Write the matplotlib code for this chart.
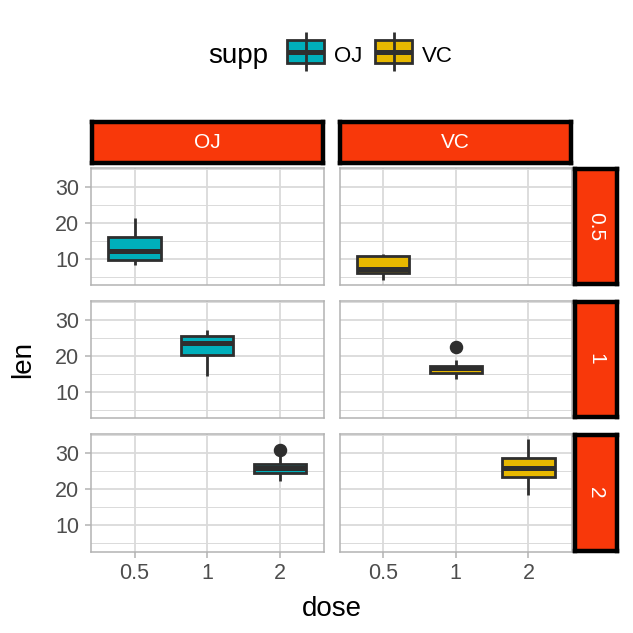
import matplotlib
matplotlib.use('Agg')
import matplotlib.pyplot as plt
from matplotlib.patches import Rectangle

plt.rcParams['font.family'] = ['Liberation Sans', 'DejaVu Sans']

# ToothGrowth: tooth length by supplement and dose
supp_levels = ['OJ', 'VC']
dose_levels = ['0.5', '1', '2']
len_oj_05 = [15.2, 21.5, 17.6, 9.7, 14.5, 10.0, 8.2, 9.4, 16.5, 9.7]
len_oj_1 = [19.7, 23.3, 23.6, 26.4, 20.0, 25.2, 25.8, 21.2, 14.5, 27.3]
len_oj_2 = [25.5, 26.4, 22.4, 24.5, 24.8, 30.9, 26.4, 27.3, 29.4, 23.0]
len_vc_05 = [4.2, 11.5, 7.3, 5.8, 6.4, 10.0, 11.2, 11.2, 5.2, 7.0]
len_vc_1 = [16.5, 16.5, 15.2, 17.3, 22.5, 17.3, 13.6, 14.5, 18.8, 15.5]
len_vc_2 = [23.6, 18.5, 33.9, 25.5, 26.4, 32.5, 26.7, 21.5, 23.3, 29.5]
y_ticks = [10, 20, 30]
y_minor = [5, 15, 25, 35]

tooth_len = {
    ('OJ', '0.5'): len_oj_05, ('OJ', '1'): len_oj_1, ('OJ', '2'): len_oj_2,
    ('VC', '0.5'): len_vc_05, ('VC', '1'): len_vc_1, ('VC', '2'): len_vc_2,
}
fill_colors = {'OJ': '#00AFBB', 'VC': '#E7B800'}
EDGE = '#2E2E2E'
STRIP = '#F8380A'
BOX_LW = 2.0
MED_LW = 3.6

W = H = 633
fig = plt.figure(figsize=(6.33, 6.33), dpi=100)


def rect(x0, y0, x1, y1):
    """pixel box (top-left origin) -> figure fraction rect"""
    return [x0 / W, 1 - y1 / H, (x1 - x0) / W, (y1 - y0) / H]


col_x = [(91, 323.5), (339.5, 572)]
row_y = [(168, 285), (300.5, 418), (434, 551.5)]

all_vals = [v for vals in tooth_len.values() for v in vals]
lo, hi = min(all_vals), max(all_vals)
pad = 0.05 * (hi - lo)

for i, dose in enumerate(dose_levels):
    for j, supp in enumerate(supp_levels):
        ax = fig.add_axes(rect(col_x[j][0], row_y[i][0], col_x[j][1], row_y[i][1]))
        ax.boxplot([tooth_len[(supp, dose)]], positions=[dose_levels.index(dose) + 1],
                   widths=0.72, patch_artist=True, showcaps=False, whis=1.5,
                   boxprops=dict(facecolor=fill_colors[supp], edgecolor=EDGE, linewidth=BOX_LW),
                   medianprops=dict(color=EDGE, linewidth=MED_LW, solid_capstyle='butt'),
                   whiskerprops=dict(color=EDGE, linewidth=BOX_LW, solid_capstyle='butt'),
                   flierprops=dict(marker='o', markerfacecolor=EDGE, markeredgecolor=EDGE,
                                   markersize=8.7))
        ax.set_xlim(0.4, 3.6)
        ax.set_ylim(lo - pad, hi + pad)
        ax.set_xticks([1, 2, 3])
        ax.set_xticklabels(dose_levels)
        ax.set_yticks(y_ticks)
        ax.set_yticks(y_minor, minor=True)
        ax.grid(which='major', color='#DADADA', linewidth=1.3)
        ax.grid(which='minor', axis='y', color='#DADADA', linewidth=0.7)
        ax.set_axisbelow(True)
        for s in ax.spines.values():
            s.set_color('#B3B3B3')
            s.set_linewidth(1.1)
        ax.tick_params(which='major', length=4.3, width=1.1, color='#B3B3B3',
                       labelsize=15.5, labelcolor='#4D4D4D', pad=4)
        ax.tick_params(which='minor', length=0)
        if j > 0:
            ax.tick_params(left=False, labelleft=False)
        if i < len(dose_levels) - 1:
            ax.tick_params(bottom=False, labelbottom=False)

# facet strips
for j, supp in enumerate(supp_levels):
    sa = fig.add_axes(rect(col_x[j][0] + 1, 122, col_x[j][1] - 1, 163))
    sa.set_facecolor(STRIP)
    sa.set_xticks([]); sa.set_yticks([])
    for s in sa.spines.values():
        s.set_color('black'); s.set_linewidth(3.2)
    sa.text(0.5, 0.5, supp, transform=sa.transAxes, ha='center', va='center',
            color='white', fontsize=15)

for i, dose in enumerate(dose_levels):
    sa = fig.add_axes(rect(575, row_y[i][0] + 1, 616.5, row_y[i][1] - 1))
    sa.set_facecolor(STRIP)
    sa.set_xticks([]); sa.set_yticks([])
    for s in sa.spines.values():
        s.set_color('black'); s.set_linewidth(3.2)
    sa.text(0.5, 0.5, dose, transform=sa.transAxes, ha='center', va='center',
            color='white', fontsize=15, rotation=-90)

# axis titles
fig.text(331.5 / W, 1 - 616 / H, 'dose', ha='center', va='baseline', fontsize=20)
fig.text(23 / W, 1 - 360 / H, 'len', ha='center', va='center', fontsize=20, rotation=90)

# legend
lg = fig.add_axes([0, 0, 1, 1])
lg.set_xlim(0, W); lg.set_ylim(H, 0)
lg.axis('off')
lg.patch.set_alpha(0)
fig.text(208 / W, 1 - 63 / H, 'supp', ha='left', va='baseline', fontsize=20)
key_x = {'OJ': 287, 'VC': 375}
lab_x = {'OJ': 334, 'VC': 422}
for supp in supp_levels:
    x0 = key_x[supp]
    cx = x0 + 18.5
    lg.plot([cx, cx], [32, 71], color=EDGE, lw=BOX_LW, solid_capstyle='butt')
    lg.add_patch(Rectangle((x0, 40), 37, 23, facecolor=fill_colors[supp], edgecolor=EDGE, lw=BOX_LW))
    lg.plot([x0, x0 + 37], [51.5, 51.5], color=EDGE, lw=MED_LW, solid_capstyle='butt')
    fig.text(lab_x[supp] / W, 1 - 62 / H, supp, ha='left', va='baseline', fontsize=16)

fig.savefig('out.png', dpi=100)
